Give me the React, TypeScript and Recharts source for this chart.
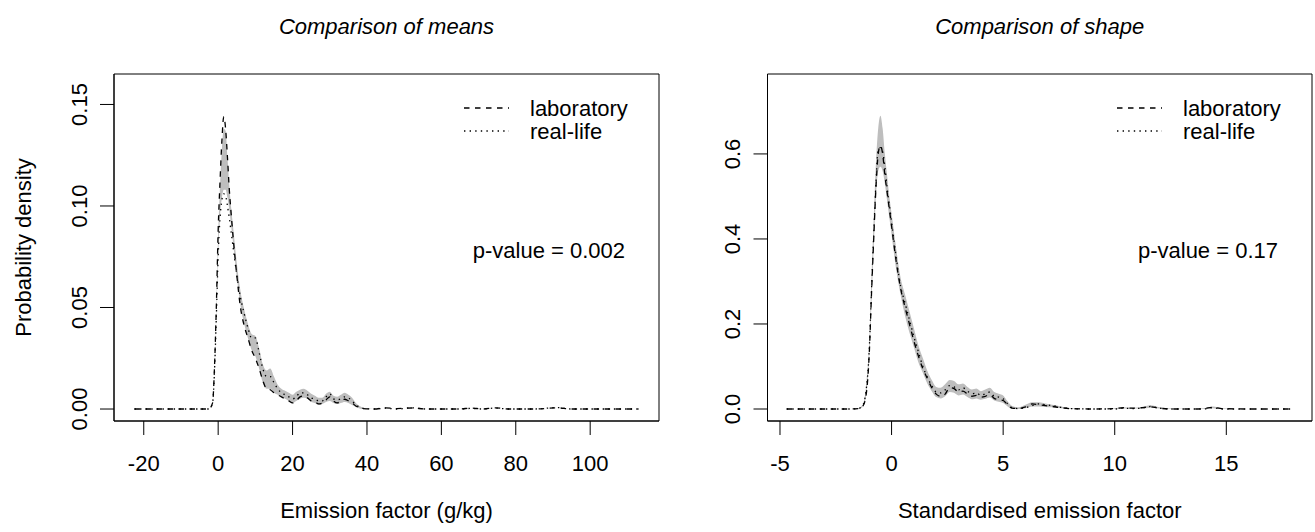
import React from "react";
import { ComposedChart, Area, Line, XAxis, YAxis, ReferenceArea } from "recharts";

// ---- left panel: comparison of means (emission factor, g/kg) ----
const meansX = [-22.5, -10, -4, -2.5, -1.5, -1, -0.5, 0, 0.5, 1, 1.5, 2, 2.5, 3, 3.5, 4, 5, 6, 7, 8, 9, 10, 11, 12, 13, 14, 15, 16, 17, 18, 19, 20, 21, 22, 23, 24, 25, 26, 27, 28, 29, 30, 31, 32, 33, 34, 35, 36, 37, 38, 39, 40, 42, 45, 48, 52, 56, 60, 65, 68, 71, 74.5, 78, 85, 91, 95, 100, 113];
const meansLab = [0, 0, 0, 0, 0.003, 0.02, 0.05, 0.088, 0.112, 0.132, 0.144, 0.138, 0.124, 0.108, 0.096, 0.085, 0.066, 0.05, 0.041, 0.035, 0.029, 0.025, 0.02, 0.014, 0.01, 0.0095, 0.008, 0.007, 0.006, 0.005, 0.004, 0.003, 0.004, 0.006, 0.0065, 0.0055, 0.004, 0.0035, 0.0025, 0.003, 0.0045, 0.006, 0.004, 0.003, 0.004, 0.0048, 0.004, 0.003, 0.0015, 0.0007, 0.0002, 0.0001, 0, 0.0006, 0.0002, 0.0005, 0, 0, 0, 0.0005, 0, 0.0006, 0, 0, 0.0006, 0, 0, 0];
const meansReal = [0, 0, 0, 0, 0.003, 0.018, 0.045, 0.075, 0.094, 0.103, 0.106, 0.105, 0.1, 0.094, 0.087, 0.08, 0.066, 0.055, 0.047, 0.04, 0.035, 0.035, 0.028, 0.02, 0.016, 0.016, 0.013, 0.01, 0.008, 0.007, 0.006, 0.005, 0.006, 0.008, 0.008, 0.007, 0.0055, 0.005, 0.004, 0.004, 0.006, 0.0075, 0.005, 0.0045, 0.005, 0.006, 0.0055, 0.004, 0.002, 0.001, 0.0003, 0.0001, 0, 0.0004, 0, 0.0006, 0, 0, 0, 0.0003, 0, 0.0005, 0, 0, 0.0007, 0, 0, 0];
const meansBandLow = [0, 0, 0, 0, 0.003, 0.018, 0.045, 0.076, 0.095, 0.104, 0.108, 0.108, 0.104, 0.098, 0.09, 0.082, 0.065, 0.051, 0.042, 0.035, 0.029, 0.026, 0.02, 0.013, 0.01, 0.01, 0.008, 0.007, 0.006, 0.005, 0.004, 0.003, 0.004, 0.005, 0.0055, 0.005, 0.0035, 0.003, 0.002, 0.0025, 0.0035, 0.004, 0.003, 0.0025, 0.003, 0.0035, 0.003, 0.002, 0.001, 0.0003, 0, 0, 0, 0, 0, 0, 0, 0, 0, 0, 0, 0, 0, 0, 0, 0, 0, 0];
const meansBandHigh = [0, 0, 0, 0, 0.003, 0.02, 0.05, 0.086, 0.11, 0.128, 0.138, 0.137, 0.124, 0.11, 0.099, 0.09, 0.072, 0.058, 0.049, 0.042, 0.037, 0.036, 0.03, 0.022, 0.019, 0.02, 0.016, 0.012, 0.01, 0.009, 0.008, 0.007, 0.0085, 0.0095, 0.01, 0.009, 0.0075, 0.0065, 0.0055, 0.0055, 0.0075, 0.0085, 0.0065, 0.006, 0.007, 0.008, 0.007, 0.0055, 0.003, 0.0015, 0.0006, 0.0002, 0, 0, 0, 0, 0, 0, 0, 0, 0, 0, 0, 0, 0, 0, 0, 0];
const meansXTicks = [-20, 0, 20, 40, 60, 80, 100];
const meansYTicks = [0, 0.05, 0.1, 0.15];
const meansYLabels = ["0.00", "0.05", "0.10", "0.15"];

// ---- right panel: comparison of shape (standardised) ----
const shapeX = [-4.7, -3, -2, -1.5, -1.3, -1.15, -1.0, -0.9, -0.8, -0.7, -0.6, -0.5, -0.4, -0.3, -0.2, -0.1, 0, 0.2, 0.4, 0.6, 0.8, 1.0, 1.2, 1.4, 1.6, 1.8, 2.0, 2.2, 2.4, 2.6, 2.8, 3.0, 3.2, 3.4, 3.6, 3.8, 4.0, 4.2, 4.4, 4.6, 4.8, 5.0, 5.2, 5.4, 5.7, 6.0, 6.3, 6.6, 6.9, 7.2, 7.6, 8.0, 9, 10, 10.4, 10.8, 11.2, 11.6, 12.0, 12.5, 13.5, 14.0, 14.4, 14.8, 16, 18];
const shapeLab = [0, 0, 0, 0.001, 0.006, 0.03, 0.13, 0.27, 0.4, 0.52, 0.6, 0.62, 0.6, 0.55, 0.51, 0.47, 0.43, 0.35, 0.285, 0.24, 0.2, 0.16, 0.125, 0.095, 0.072, 0.05, 0.035, 0.03, 0.035, 0.05, 0.048, 0.04, 0.042, 0.035, 0.03, 0.032, 0.028, 0.03, 0.034, 0.025, 0.022, 0.02, 0.01, 0.002, 0.001, 0.005, 0.012, 0.01, 0.008, 0.006, 0.003, 0.001, 0, 0.001, 0.003, 0.002, 0.003, 0.005, 0.002, 0, 0, 0.001, 0.004, 0.001, 0, 0];
const shapeReal = [0, 0, 0, 0.001, 0.008, 0.04, 0.14, 0.28, 0.41, 0.53, 0.61, 0.615, 0.605, 0.57, 0.52, 0.48, 0.44, 0.36, 0.29, 0.25, 0.21, 0.17, 0.135, 0.1, 0.075, 0.055, 0.04, 0.038, 0.045, 0.055, 0.052, 0.045, 0.05, 0.042, 0.036, 0.038, 0.032, 0.036, 0.04, 0.03, 0.028, 0.024, 0.012, 0.003, 0.001, 0.003, 0.008, 0.012, 0.01, 0.008, 0.004, 0.001, 0, 0, 0.002, 0.001, 0.002, 0.006, 0.002, 0, 0, 0, 0.003, 0, 0, 0];
const shapeBandLow = [0, 0, 0, 0, 0.005, 0.03, 0.12, 0.25, 0.38, 0.5, 0.56, 0.57, 0.56, 0.53, 0.49, 0.45, 0.41, 0.33, 0.27, 0.22, 0.18, 0.145, 0.11, 0.085, 0.06, 0.042, 0.028, 0.025, 0.03, 0.04, 0.038, 0.032, 0.034, 0.028, 0.023, 0.025, 0.022, 0.024, 0.027, 0.02, 0.017, 0.014, 0.006, 0.001, 0, 0.002, 0.006, 0.006, 0.005, 0.004, 0.002, 0, 0, 0, 0.001, 0.001, 0.001, 0.003, 0.001, 0, 0, 0, 0.002, 0, 0, 0];
const shapeBandHigh = [0, 0, 0, 0.002, 0.01, 0.05, 0.16, 0.31, 0.45, 0.58, 0.66, 0.69, 0.66, 0.6, 0.55, 0.5, 0.46, 0.38, 0.31, 0.27, 0.23, 0.19, 0.15, 0.12, 0.09, 0.068, 0.052, 0.05, 0.058, 0.068, 0.066, 0.058, 0.06, 0.052, 0.046, 0.048, 0.042, 0.046, 0.05, 0.04, 0.036, 0.032, 0.018, 0.007, 0.004, 0.01, 0.016, 0.016, 0.013, 0.01, 0.006, 0.002, 0, 0.002, 0.004, 0.003, 0.005, 0.009, 0.004, 0.001, 0, 0.002, 0.006, 0.002, 0, 0];
const shapeXTicks = [-5, 0, 5, 10, 15];
const shapeYTicks = [0, 0.2, 0.4, 0.6];
const shapeYLabels = ["0.0", "0.2", "0.4", "0.6"];

const seriesNames = ["laboratory", "real-life"];

const FONT = "'Liberation Sans', Arial, Helvetica, sans-serif";
const FS = 22;
const DASH = "5.5 5.5";
const DOT = "1.4 4.2";
const BAND = "#bebebe";

type Row = { x: number; lab: number; real: number; band: [number, number] };

const buildRows = (xs: number[], lab: number[], real: number[], lo: number[], hi: number[]): Row[] =>
  xs.map((x, i) => ({ x, lab: lab[i], real: real[i], band: [lo[i], hi[i]] }));

const meansRows = buildRows(meansX, meansLab, meansReal, meansBandLow, meansBandHigh);
const shapeRows = buildRows(shapeX, shapeLab, shapeReal, shapeBandLow, shapeBandHigh);

const PLOT_TOP = 74;
const PLOT_BOTTOM = 421;
const H = 532;
const YAXIS_W = 60;
const XAXIS_H = 60;

const makeYTick = (ticks: number[], labels: string[]) => (props: any) => {
  const { x, y, payload } = props;
  const i = ticks.findIndex((t) => Math.abs(t - payload.value) < 1e-9);
  return (
    <text x={x} y={y} transform={`rotate(-90 ${x} ${y})`} textAnchor="middle" fontSize={FS} fontFamily={FONT} fill="#000">
      {i >= 0 ? labels[i] : payload.value}
    </text>
  );
};

type PanelProps = {
  rows: Row[];
  left: number;
  width: number;
  plotLeft: number;
  plotRight: number;
  xDomain: [number, number];
  yDomain: [number, number];
  xTicks: number[];
  yTicks: number[];
  yLabels: string[];
};

const Panel: React.FC<PanelProps> = ({ rows, left, width, plotLeft, plotRight, xDomain, yDomain, xTicks, yTicks, yLabels }) => {
  return (
    <div style={{ position: "absolute", left, top: 0 }}>
      <ComposedChart
        width={width}
        height={H}
        data={rows}
        margin={{ top: PLOT_TOP, right: width - plotRight, left: plotLeft - YAXIS_W, bottom: H - PLOT_BOTTOM - XAXIS_H }}
      >
        <XAxis
          xAxisId="b"
          dataKey="x"
          type="number"
          domain={xDomain}
          ticks={xTicks}
          interval={0}
          allowDataOverflow
          height={XAXIS_H}
          tickSize={14}
          tickMargin={20}
          axisLine={{ stroke: "#000" }}
          tickLine={{ stroke: "#000" }}
          tick={{ fontSize: FS, fill: "#000", fontFamily: FONT }}
        />
        <YAxis
          yAxisId="l"
          type="number"
          domain={yDomain}
          ticks={yTicks}
          interval={0}
          allowDataOverflow
          width={YAXIS_W}
          tickSize={14}
          tickMargin={13}
          axisLine={{ stroke: "#000" }}
          tickLine={{ stroke: "#000" }}
          tick={makeYTick(yTicks, yLabels)}
        />
        <Area xAxisId="b" yAxisId="l" type="monotone" dataKey="band" stroke="none" fill={BAND} fillOpacity={1} isAnimationActive={false} />
        <Line xAxisId="b" yAxisId="l" type="monotone" dataKey="lab" stroke="#000" strokeWidth={1.3} strokeDasharray={DASH} dot={false} activeDot={false} isAnimationActive={false} />
        <Line xAxisId="b" yAxisId="l" type="monotone" dataKey="real" stroke="#000" strokeWidth={1.3} strokeDasharray={DOT} dot={false} activeDot={false} isAnimationActive={false} />
        <ReferenceArea
          xAxisId="b"
          yAxisId="l"
          x1={xDomain[0]}
          x2={xDomain[1]}
          y1={yDomain[0]}
          y2={yDomain[1]}
          fill="none"
          stroke="#000"
          strokeWidth={1}
          ifOverflow="visible"
        />
      </ComposedChart>
    </div>
  );
};

const LEFT_BOX = [114, 659];
const RIGHT_BOX = [767.5, 1312];

const Annotations: React.FC = () => {
  const txt = { fontFamily: FONT, fontSize: FS, fill: "#000" } as const;
  const legend = (boxRight: number, pval: string) => (
    <g>
      <line x1={boxRight - 195} x2={boxRight - 150} y1={108} y2={108} stroke="#000" strokeWidth={1.3} strokeDasharray={DASH} />
      <text x={boxRight - 129} y={116} {...txt}>{seriesNames[0]}</text>
      <line x1={boxRight - 195} x2={boxRight - 150} y1={131} y2={131} stroke="#000" strokeWidth={1.3} strokeDasharray={DOT} />
      <text x={boxRight - 129} y={139} {...txt}>{seriesNames[1]}</text>
      <text x={boxRight - 34} y={258} textAnchor="end" {...txt}>{pval}</text>
    </g>
  );
  const lc = (LEFT_BOX[0] + LEFT_BOX[1]) / 2;
  const rc = (RIGHT_BOX[0] + RIGHT_BOX[1]) / 2;
  return (
    <svg width={1315} height={H} style={{ position: "absolute", left: 0, top: 0, pointerEvents: "none" }}>
      <text x={lc} y={34} textAnchor="middle" fontStyle="italic" {...txt}>Comparison of means</text>
      <text x={rc} y={34} textAnchor="middle" fontStyle="italic" {...txt}>Comparison of shape</text>
      <text x={lc} y={518} textAnchor="middle" {...txt}>Emission factor (g/kg)</text>
      <text x={rc} y={518} textAnchor="middle" {...txt}>Standardised emission factor</text>
      <text x={31} y={(PLOT_TOP + PLOT_BOTTOM) / 2} textAnchor="middle" transform={`rotate(-90 31 ${(PLOT_TOP + PLOT_BOTTOM) / 2})`} {...txt}>
        Probability density
      </text>
      {legend(LEFT_BOX[1], "p-value = 0.002")}
      {legend(RIGHT_BOX[1], "p-value = 0.17")}
    </svg>
  );
};

export default function App() {
  return (
    <div style={{ position: "absolute", left: 0, top: 0, width: 1315, height: H, background: "#fff", overflow: "hidden" }}>
      <Panel
        rows={meansRows}
        left={0}
        width={665}
        plotLeft={LEFT_BOX[0]}
        plotRight={LEFT_BOX[1]}
        xDomain={[-28, 118.5]}
        yDomain={[-0.0059, 0.165]}
        xTicks={meansXTicks}
        yTicks={meansYTicks}
        yLabels={meansYLabels}
      />
      <Panel
        rows={shapeRows}
        left={657}
        width={658}
        plotLeft={RIGHT_BOX[0] - 657}
        plotRight={RIGHT_BOX[1] - 657}
        xDomain={[-5.56, 18.84]}
        yDomain={[-0.0282, 0.788]}
        xTicks={shapeXTicks}
        yTicks={shapeYTicks}
        yLabels={shapeYLabels}
      />
      <Annotations />
    </div>
  );
}
